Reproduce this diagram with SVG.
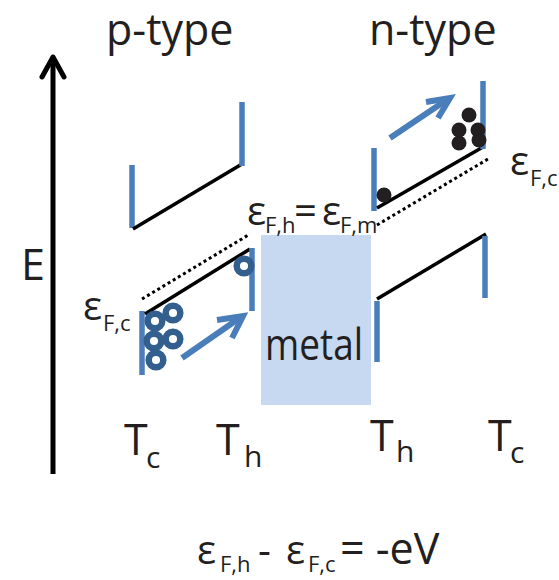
<svg xmlns="http://www.w3.org/2000/svg" width="559" height="580" viewBox="0 0 559 580">
<style>
text{font-family:"Open Sans","Noto Sans","DejaVu Sans",sans-serif;fill:#231F20}
.band{stroke:#000;stroke-width:3.5;fill:none}
.edge{stroke:#4A7EBB;stroke-width:5.5;fill:none}
.fermi{stroke:#000;stroke-width:3;stroke-dasharray:3 3;fill:none}
.hole{fill:none;stroke:#335F8E;stroke-width:6.5}
.elec{fill:#231F20}
.flow{stroke:#4A7EBB;stroke-width:6;fill:none}
.big{font-size:43px}
.eps{font-size:40px}
.sub{font-size:22px}
.tsub{font-size:30px}
</style>
<rect width="559" height="580" fill="#fff"/>
<g id="axis">
<line x1="53" y1="474" x2="53" y2="58" stroke="#000" stroke-width="5"/>
<polyline points="42,77 53,57 64,77" stroke="#000" stroke-width="5" fill="none" stroke-linecap="round" stroke-linejoin="round"/>
<text class="big" x="21" y="280">E</text>
</g>
<g id="metal">
<rect x="261" y="235" width="110" height="170" fill="#C6D9F1"/>
<text class="big" x="265" y="360" textLength="98" lengthAdjust="spacingAndGlyphs" font-size="42">metal</text>
</g>
<g id="p-type">
<text class="big" x="106" y="45">p-type</text>
<line class="edge" x1="132" y1="165" x2="132" y2="228"/>
<line class="band" x1="133" y1="229" x2="242" y2="164"/>
<line class="edge" x1="242" y1="102" x2="242" y2="166"/>
<line class="fermi" x1="142" y1="299" x2="250" y2="234"/>
<line class="edge" x1="142" y1="311" x2="142" y2="375"/>
<line class="band" x1="145" y1="314" x2="250" y2="249"/>
<line class="edge" x1="252" y1="248" x2="252" y2="311"/>
<circle class="hole" cx="155" cy="321" r="7.3"/>
<circle class="hole" cx="173" cy="313" r="7.3"/>
<circle class="hole" cx="154" cy="341" r="7.3"/>
<circle class="hole" cx="173" cy="339" r="7.3"/>
<circle class="hole" cx="156" cy="360" r="7.3"/>
<circle class="hole" cx="244" cy="266" r="7.3"/>
<text class="eps" x="83" y="320">ε<tspan class="sub" x="103" y="331">F,c</tspan></text>
<text class="big" x="124" y="455">T<tspan class="tsub" x="146" y="468">c</tspan></text>
<text class="big" x="216" y="455">T<tspan class="tsub" x="244" y="467">h</tspan></text>
</g>
<g id="n-type">
<text class="big" x="369" y="45">n-type</text>
<line class="edge" x1="374" y1="148" x2="374" y2="211"/>
<line class="band" x1="377" y1="208" x2="483" y2="147"/>
<line class="edge" x1="483" y1="81" x2="483" y2="149"/>
<line class="fermi" x1="377" y1="225" x2="488" y2="159"/>
<line class="edge" x1="377" y1="301" x2="377" y2="362"/>
<line class="band" x1="377" y1="299" x2="486" y2="234"/>
<line class="edge" x1="485" y1="236" x2="485" y2="298"/>
<circle class="elec" cx="384" cy="195" r="7.5"/>
<circle class="elec" cx="469" cy="115" r="7.5"/>
<circle class="elec" cx="459" cy="130" r="7.5"/>
<circle class="elec" cx="478" cy="130" r="7.5"/>
<circle class="elec" cx="459" cy="143" r="7.5"/>
<circle class="elec" cx="479" cy="140" r="7.5"/>
<text class="eps" x="510" y="175">ε<tspan class="sub" x="530" y="186">F,c</tspan></text>
<text class="big" x="370" y="451">T<tspan class="tsub" x="396" y="462">h</tspan></text>
<text class="big" x="488" y="451">T<tspan class="tsub" x="510" y="463">c</tspan></text>
</g>
<g id="fermi-label">
<text class="eps" x="247" y="225">ε<tspan class="sub" x="265" y="233">F,h</tspan><tspan x="294" y="225">=</tspan><tspan x="322" y="225">ε</tspan><tspan class="sub" x="340" y="233">F,m</tspan></text>
</g>
<g id="connectors">
<line class="flow" x1="182" y1="358" x2="241" y2="317"/>
<polyline class="flow" points="217,320 243,316 232,338"/>
<line class="flow" x1="390" y1="138" x2="448" y2="99"/>
<polyline class="flow" points="426,102 450,98 438,118"/>
</g>
<g id="equation">
<text class="eps" x="197" y="564">ε<tspan class="sub" x="220" y="572">F,h</tspan><tspan x="258" y="564">-</tspan><tspan x="286" y="564">ε</tspan><tspan class="sub" x="308" y="572">F,c</tspan><tspan x="340" y="564" font-size="43">= -eV</tspan></text>
</g>
</svg>
